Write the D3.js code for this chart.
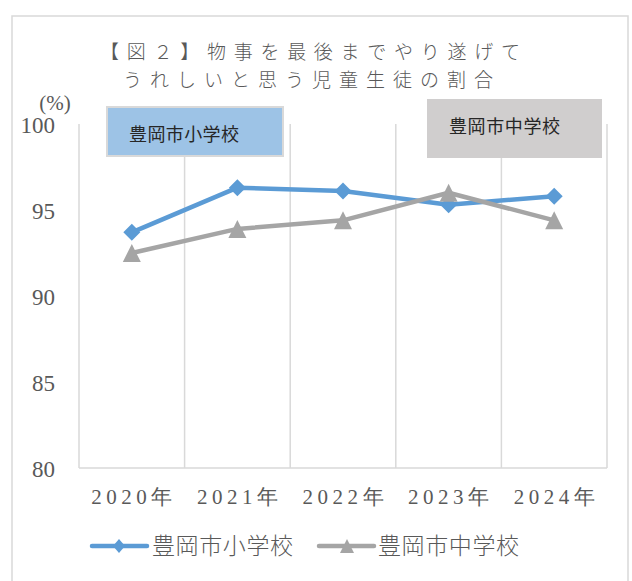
<!DOCTYPE html>
<html><head><meta charset="utf-8">
<script src="https://cdn.jsdelivr.net/npm/d3@7"></script>
<style>body{margin:0;background:#fff}svg{display:block}</style>
</head><body>
<script>
const years = ["2020年","2021年","2022年","2023年","2024年"];
const elementary = [93.7, 96.3, 96.1, 95.3, 95.8];
const juniorHigh = [92.5, 93.9, 94.4, 96.0, 94.4];
const seriesNames = ["豊岡市小学校","豊岡市中学校"];
const yTicks = [80, 85, 90, 95, 100];
const titleLines = ["【図２】物事を最後までやり遂げて","うれしいと思う児童生徒の割合"];

const W = 632, H = 581;
const svg = d3.select("body").append("svg").attr("width", W).attr("height", H);
const grid = "#d9d9d9", txt = "#595959";
const cjk = "'Noto Sans CJK JP','Noto Sans CJK SC',sans-serif";
const serif = "'Liberation Serif','DejaVu Serif',serif";

// outer frame
svg.append("rect").attr("x",12).attr("y",16).attr("width",616).attr("height",580)
  .attr("fill","#fff").attr("stroke",grid).attr("stroke-width",1.5);

const x = d3.scaleBand().domain(years).range([79, 607]).padding(0);
const y = d3.scaleLinear().domain([80, 100]).range([468, 124]);

// title
const tl = [{t:titleLines[0], cx:310, y:59, len:420},{t:titleLines[1], cx:308, y:87, len:370}];
svg.selectAll(".title").data(tl).enter().append("text")
  .attr("x", d=>d.cx).attr("y", d=>d.y).attr("text-anchor","middle")
  .attr("textLength", d=>d.len).attr("lengthAdjust","spacing")
  .attr("font-family", cjk).attr("font-size", 19).attr("font-weight", 300).attr("fill", txt).text(d=>d.t);

// (%)
svg.append("text").attr("x",55).attr("y",110).attr("text-anchor","middle")
  .attr("font-family",serif).attr("font-size",21).attr("fill",txt).text("(%)");

// vertical gridlines at category boundaries
const bounds = years.map(d=>x(d)).concat([x.range()[1]]);
svg.append("g").selectAll("line").data(bounds).enter().append("line")
  .attr("x1",d=>d).attr("x2",d=>d).attr("y1",y(100)).attr("y2",y(80))
  .attr("stroke",grid).attr("stroke-width",1.5);
// bottom axis line
svg.append("line").attr("x1",x.range()[0]).attr("x2",x.range()[1]).attr("y1",y(80)).attr("y2",y(80))
  .attr("stroke",grid).attr("stroke-width",1.5);

// y axis labels
const yAxis = d3.axisLeft(y).tickValues(yTicks).tickSize(0).tickPadding(0);
const ya = svg.append("g").attr("transform","translate(55,0)").call(yAxis);
ya.select(".domain").remove();
ya.selectAll("text").attr("font-family",serif).attr("font-size",23).attr("fill",txt).attr("dy","0.35em");

// x axis labels
const xAxis = d3.axisBottom(x).tickSize(0).tickPadding(0);
const xa = svg.append("g").attr("transform","translate(0,504)").call(xAxis);
xa.select(".domain").remove();
xa.selectAll("text").attr("font-family",serif).attr("font-size",21).attr("fill",txt)
  .attr("dy",0).attr("textLength",81).attr("lengthAdjust","spacing");

// series label boxes
svg.append("rect").attr("x",107).attr("y",107).attr("width",176).attr("height",49)
  .attr("fill","#9dc3e6").attr("stroke",grid).attr("stroke-width",2);
svg.append("text").attr("x",129).attr("y",141).attr("font-family",cjk).attr("font-size",18)
  .attr("fill","#262626").attr("textLength",110).attr("lengthAdjust","spacing").text(seriesNames[0]);
svg.append("rect").attr("x",427).attr("y",99).attr("width",175).attr("height",59)
  .attr("fill","#d0cece");
svg.append("text").attr("x",449).attr("y",133).attr("font-family",cjk).attr("font-size",18)
  .attr("fill","#262626").attr("textLength",111).attr("lengthAdjust","spacing").text(seriesNames[1]);

const cx = d => x(d) + x.bandwidth()/2;
const line = d3.line().x((d,i)=>cx(years[i])).y(d=>y(d));
const diamond = s => `M0,${-s}L${s},0L0,${s}L${-s},0Z`;
const tri = s => `M0,${-s}L${s},${s}L${-s},${s}Z`;

const series = [
  {name:seriesNames[0], vals:elementary, color:"#5b9bd5", shape:diamond(8.5), lshape:"M0,-7L6,0L0,7L-6,0Z"},
  {name:seriesNames[1], vals:juniorHigh, color:"#a5a5a5", shape:tri(9), lshape:"M0,-7L7,7L-7,7Z"}
];
series.forEach(s=>{
  svg.append("path").datum(s.vals).attr("d",line).attr("fill","none")
    .attr("stroke",s.color).attr("stroke-width",4.5).attr("stroke-linejoin","round").attr("stroke-linecap","round");
  svg.append("g").selectAll("path").data(s.vals).enter().append("path")
    .attr("d",s.shape).attr("transform",(d,i)=>`translate(${cx(years[i])},${y(d)})`).attr("fill",s.color);
});

// legend
const leg = [{x0:92, x1:147, mx:119, tx:152},{x0:319, x1:374, mx:347, tx:378}];
series.forEach((s,i)=>{
  const L = leg[i];
  svg.append("line").attr("x1",L.x0).attr("x2",L.x1).attr("y1",546).attr("y2",546)
    .attr("stroke",s.color).attr("stroke-width",4.5).attr("stroke-linecap","round");
  svg.append("path").attr("d",s.lshape).attr("transform",`translate(${L.mx},546)`).attr("fill",s.color);
  svg.append("text").attr("x",L.tx).attr("y",554).attr("font-family",cjk).attr("font-size",23).attr("font-weight",300)
    .attr("fill",txt).attr("textLength",141).attr("lengthAdjust","spacing").text(s.name);
});
</script>
</body></html>
